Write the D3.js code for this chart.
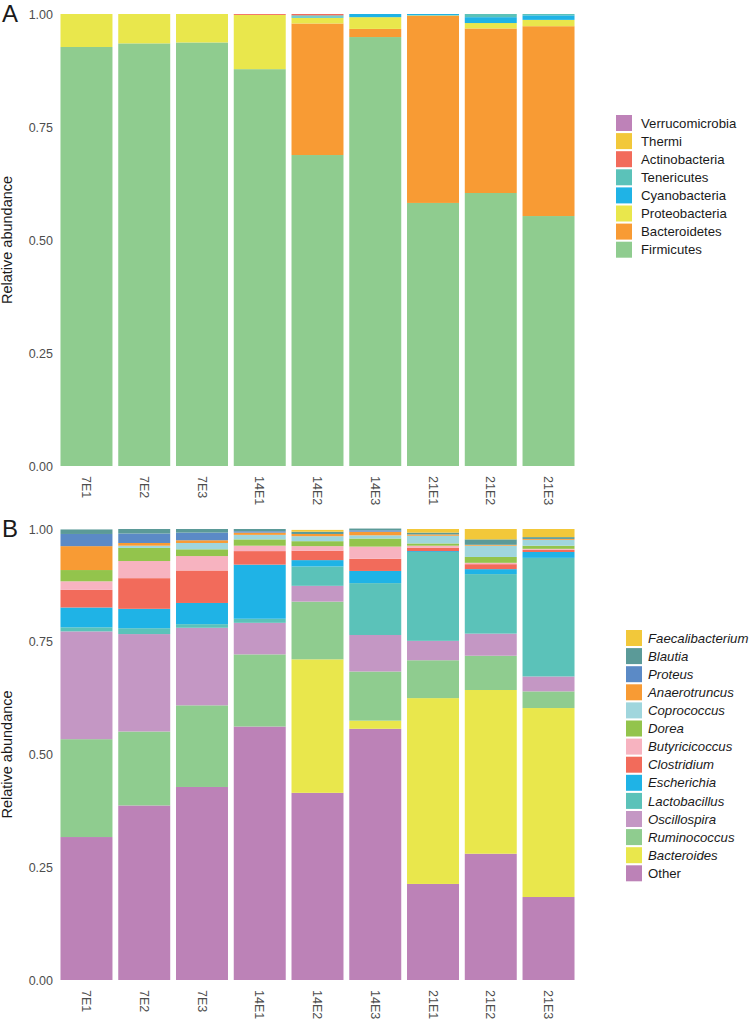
<!DOCTYPE html>
<html>
<head>
<meta charset="utf-8">
<script src="https://cdn.jsdelivr.net/npm/d3@7"></script>
<style>
  body { margin: 0; background: #fff; }
  svg { display: block; font-family: "Liberation Sans", Arial, sans-serif; }
</style>
</head>
<body>
<svg id="chart" width="750" height="1019"></svg>
<script>
// ---------- DATA ----------
const samples = ["7E1","7E2","7E3","14E1","14E2","14E3","21E1","21E2","21E3"];
const yTicks = [0, 0.25, 0.5, 0.75, 1];

// Panel A: phyla (stack order bottom -> top)
const phyla = ["Firmicutes","Bacteroidetes","Proteobacteria","Cyanobacteria","Tenericutes","Actinobacteria","Thermi","Verrucomicrobia"];
const phylaColors = ["#8fcc8f","#f89b34","#e9e74c","#1fb3e6","#5bc2b9","#f26b5b","#f2c83a","#be82b8"];
const firmicutes      = [0.927,0.935,0.937,0.878,0.688,0.949,0.582,0.604,0.553];
const bacteroidetes   = [0.000,0.000,0.000,0.000,0.291,0.018,0.414,0.364,0.420];
const proteobacteria  = [0.073,0.065,0.063,0.120,0.013,0.026,0.001,0.012,0.014];
const cyanobacteria   = [0.000,0.000,0.000,0.000,0.002,0.007,0.003,0.013,0.010];
const tenericutes     = [0.000,0.000,0.000,0.000,0.003,0.000,0.000,0.007,0.003];
const actinobacteria  = [0.000,0.000,0.000,0.002,0.003,0.000,0.000,0.000,0.000];
const thermi          = [0.000,0.000,0.000,0.000,0.000,0.000,0.000,0.000,0.000];
const verrucomicrobia = [0.000,0.000,0.000,0.000,0.000,0.000,0.000,0.000,0.000];

// Panel B: genera (stack order bottom -> top)
const genera = ["Other","Bacteroides","Ruminococcus","Oscillospira","Lactobacillus","Escherichia","Clostridium","Butyricicoccus","Dorea","Coprococcus","Anaerotruncus","Proteus","Blautia","Faecalibacterium"];
const generaColors = ["#bc82b7","#e9e74c","#8fcc8f","#c497c4","#5bc2b9","#1fb3e6","#f26b5b","#f7b3c0","#93c44c","#a0d6dd","#f89b34","#5b8ac6","#5b9a98","#f2c83a"];
const other            = [0.317,0.387,0.428,0.562,0.415,0.557,0.213,0.280,0.184];
const bacteroides      = [0.000,0.000,0.000,0.000,0.296,0.018,0.412,0.363,0.419];
const ruminococcus     = [0.217,0.164,0.181,0.160,0.128,0.109,0.084,0.076,0.037];
const oscillospira     = [0.239,0.216,0.172,0.070,0.035,0.081,0.043,0.049,0.033];
const lactobacillus    = [0.009,0.013,0.008,0.009,0.043,0.115,0.197,0.132,0.263];
const escherichia      = [0.044,0.043,0.047,0.120,0.014,0.027,0.002,0.011,0.013];
const clostridium      = [0.039,0.068,0.072,0.030,0.021,0.027,0.007,0.011,0.005];
const butyricicoccus   = [0.019,0.038,0.032,0.012,0.010,0.027,0.005,0.003,0.002];
const dorea            = [0.025,0.029,0.015,0.014,0.011,0.018,0.005,0.013,0.007];
const coprococcus      = [0.000,0.005,0.014,0.010,0.011,0.007,0.017,0.025,0.013];
const anaerotruncus    = [0.053,0.006,0.006,0.005,0.005,0.008,0.003,0.002,0.002];
const proteus          = [0.027,0.021,0.017,0.003,0.000,0.003,0.000,0.000,0.000];
const blautia          = [0.010,0.010,0.008,0.005,0.005,0.004,0.004,0.012,0.004];
const faecalibacterium = [0.000,0.000,0.000,0.000,0.004,0.000,0.008,0.023,0.018];

const phylaValues = [firmicutes,bacteroidetes,proteobacteria,cyanobacteria,tenericutes,actinobacteria,thermi,verrucomicrobia];
const generaValues = [other,bacteroides,ruminococcus,oscillospira,lactobacillus,escherichia,clostridium,butyricicoccus,dorea,coprococcus,anaerotruncus,proteus,blautia,faecalibacterium];

// ---------- DRAW ----------
const svg = d3.select("#chart");

function panel(opts) {
  const {keys, colors, values, yTop, yBottom, letter, legendX, legendY, legendTextX, italic} = opts;
  const rows = samples.map((s, i) => {
    const r = {sample: s};
    keys.forEach((k, j) => r[k] = values[j][i]);
    return r;
  });
  const x = d3.scaleBand().domain(samples).range([57.6, 577.4]).paddingInner(0.1).paddingOuter(0.05);
  const y = d3.scaleLinear().domain([0, 1]).range([yBottom, yTop]);
  const color = d3.scaleOrdinal().domain(keys).range(colors);
  const stack = d3.stack().keys(keys)(rows);

  const g = svg.append("g");
  g.selectAll("g.layer").data(stack).join("g")
    .attr("fill", d => color(d.key))
    .selectAll("rect").data(d => d).join("rect")
    .attr("x", d => x(d.data.sample))
    .attr("width", x.bandwidth())
    .attr("y", d => y(d[1]))
    .attr("height", d => Math.max(0, y(d[0]) - y(d[1])));

  // y axis (labels only)
  const ya = g.append("g").attr("transform", "translate(57,0)")
    .call(d3.axisLeft(y).tickValues(yTicks).tickFormat(d3.format(".2f")).tickSize(0).tickPadding(4));
  ya.select(".domain").remove();
  ya.selectAll("text").attr("font-size", 12.5).attr("fill", "#4d4d4d")
    .attr("font-family", "Liberation Sans, Arial, sans-serif");

  // x axis (rotated labels)
  const xa = g.append("g").attr("transform", `translate(0,${yBottom})`)
    .call(d3.axisBottom(x).tickSize(0).tickPadding(0));
  xa.select(".domain").remove();
  xa.selectAll("text")
    .attr("font-size", 12.5).attr("fill", "#4d4d4d")
    .attr("font-family", "Liberation Sans, Arial, sans-serif")
    .attr("transform", "translate(0,10) rotate(90)")
    .attr("text-anchor", "start").attr("dy", "0.35em").attr("y", 0).attr("x", 0);

  // y title
  g.append("text")
    .attr("transform", `translate(12,${(yTop + yBottom) / 2}) rotate(-90)`)
    .attr("text-anchor", "middle")
    .attr("font-size", 14.5).attr("fill", "#1a1a1a")
    .text("Relative abundance");

  // panel letter
  g.append("text").attr("x", 2).attr("y", yTop + 8)
    .attr("font-size", 24).attr("fill", "#1a1a1a").text(letter);

  // legend (top item is last key)
  const legKeys = keys.slice().reverse();
  const lg = g.append("g");
  legKeys.forEach((k, i) => {
    const cy = legendY + i * 18.1;
    lg.append("rect").attr("x", legendX).attr("y", cy - 8).attr("width", 16).attr("height", 16).attr("fill", color(k));
    lg.append("text").attr("x", legendTextX).attr("y", cy).attr("dy", "0.35em")
      .attr("font-size", 13.2).attr("fill", "#1a1a1a")
      .attr("font-style", italic && k !== "Other" ? "italic" : "normal")
      .text(k);
  });
}

panel({keys: phyla, colors: phylaColors, values: phylaValues, yTop: 14, yBottom: 466,
  letter: "A", legendX: 616, legendY: 123, legendTextX: 641, italic: false});
panel({keys: genera, colors: generaColors, values: generaValues, yTop: 529, yBottom: 980,
  letter: "B", legendX: 626, legendY: 638, legendTextX: 648, italic: true});
</script>
</body>
</html>
